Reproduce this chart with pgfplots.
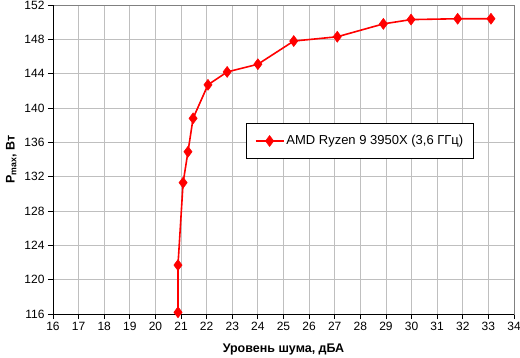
\documentclass[border=0pt]{standalone}
\usepackage{pgfplots}
\pgfplotsset{compat=1.18}
\usepackage{fontspec}
\setmainfont{Liberation Sans}
\begin{document}
\begin{tikzpicture}
\begin{axis}[
  at={(53pt,43pt)}, anchor=south west,
  scale only axis, width=461pt, height=309pt,
  xmin=16, xmax=34, ymin=116, ymax=152,
  xtick={16,17,...,34}, ytick={116,120,...,152},
  grid=major, grid style={color=black!25, line width=0.8pt},
  axis line style={color=black!50, line width=0.8pt},
  tick align=outside, xtick pos=bottom, ytick pos=left,
  major tick length=5pt, tick style={black, line width=0.8pt},
  tick label style={font=\fontsize{12}{14}\selectfont},
  /pgf/number format/assume math mode=true,
  xlabel={\textbf{Уровень шума, дБА}},
  ylabel={\textbf{P\textsubscript{max}, Вт}},
  label style={font=\fontsize{12.5}{14}\selectfont},
  xlabel style={yshift=-6pt},
  ylabel style={yshift=1pt},
  legend style={at={(0.666,0.56)}, anchor=center, draw=black, line width=0.8pt,
    font=\fontsize{13}{15}\selectfont, inner xsep=8pt, inner ysep=10pt},
  legend image code/.code={\draw[mark repeat=2,mark phase=2] plot coordinates {(0pt,0pt) (14pt,0pt) (28pt,0pt)};},
  legend cell align=left,
]
\addplot[red, line width=1.6pt, mark=diamond*, mark size=5.5pt, mark options={fill=red, line width=0.5pt}]
 coordinates {
 (20.88,116.2) (20.88,121.7) (21.08,131.3) (21.27,134.9) (21.47,138.8)
 (22.05,142.7) (22.8,144.2) (24.0,145.1) (25.4,147.8) (27.1,148.3)
 (28.9,149.8) (29.98,150.3) (31.8,150.4) (33.1,150.4)
 };
\addlegendentry{AMD Ryzen 9 3950X (3,6 ГГц)}
\draw[black, line width=0.8pt] (rel axis cs:0,1) -- (rel axis cs:0,0) -- (rel axis cs:1,0);
\end{axis}
\pgfresetboundingbox
\path (0,0) rectangle (520pt,357pt);
\end{tikzpicture}
\end{document}
